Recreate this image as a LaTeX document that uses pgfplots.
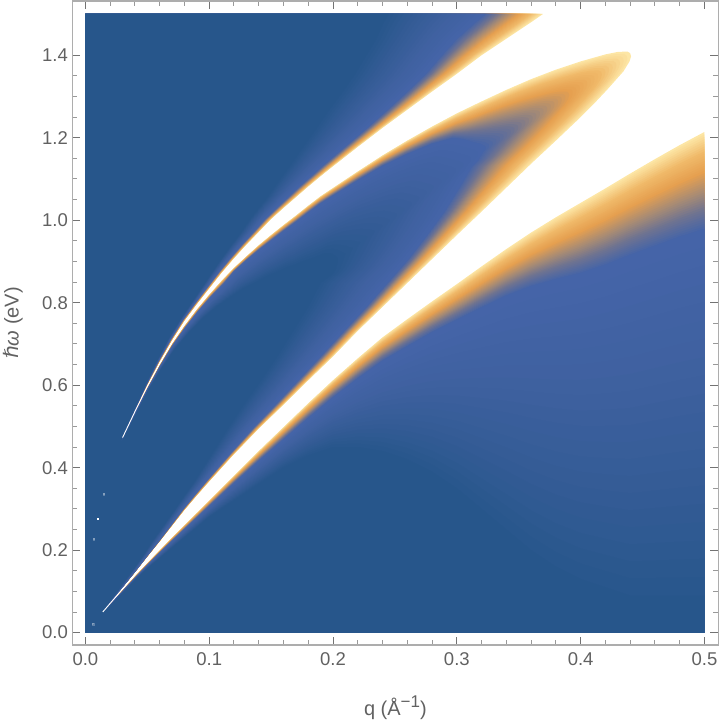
\documentclass[border=0pt]{standalone}
\usepackage{fontspec}
\setmainfont{Liberation Sans}
\newfontfamily\dejavu{DejaVu Sans}
\usepackage{pgfplots}
\usepackage{pgfplotstable}
\pgfplotsset{compat=1.18}

\pgfplotsset{
  colormap={halo}{rgb255=(253,230,165) rgb255=(240,185,105) rgb255=(230,160,80) rgb255=(170,140,115) rgb255=(110,115,145) rgb255=(69,100,168)},
  colormap={deep}{rgb255=(69,100,168) rgb255=(63,97,160) rgb255=(52,92,150) rgb255=(39,86,139)},
}

% non-white region: white edge (x0,y0), end of orange halo (x1,y1), end of light blue (x2,y2)
\pgfplotstableread{
x0 y0 x1 y1 x2 y2
0 1.5 0 1.5 0 1.5
.3696 1.5 .323 1.5 .245 1.5
.36 1.48 .315 1.48 .241 1.48
.34 1.44 .30 1.44 .235 1.44
.32 1.40 .288 1.40 .227 1.40
.30 1.355 .275 1.355 .218 1.355
.28 1.312 .26 1.312 .208 1.312
.26 1.268 .244 1.268 .197 1.268
.24 1.224 .2275 1.224 .187 1.224
.22 1.178 .2095 1.178 .176 1.178
.20 1.131 .1912 1.131 .165 1.131
.19 1.107 .1823 1.107 .159 1.107
.18 1.082 .1728 1.082 .153 1.082
.17 1.056 .1636 1.056 .147 1.056
.16 1.03 .1544 1.03 .14 1.03
.15 1.003 .145 1.003 .133 1.003
.14 .972 .1358 .972 .126 .972
.13 .941 .1263 .941 .118 .941
.12 .908 .1168 .908 .11 .908
.11 .873 .1073 .873 .102 .873
.10 .835 .0976 .835 .0935 .835
.09 .797 .088 .797 .085 .797
.08 .757 .0783 .757 .076 .757
.07 .71 .0686 .71 .0665 .71
.06 .658 .0589 .658 .0575 .658
.05 .601 .0492 .601 .0485 .601
.04 .538 .0395 .538 .039 .538
.03 .474 .0298 .474 .0295 .474
.0285 .46 .0285 .46 .0285 .46
.03 .472 .0301 .4715 .0305 .469
.04 .534 .0402 .533 .041 .53
.05 .593 .0503 .591 .051 .588
.06 .648 .0604 .646 .0615 .64
.07 .699 .0705 .696 .0725 .688
.08 .743 .0807 .739 .084 .728
.09 .783 .091 .778 .095 .762
.10 .819 .1012 .813 .106 .79
.11 .853 .112 .846 .118 .815
.12 .884 .12 .875 .128 .835
.13 .912 .13 .902 .138 .85
.14 .939 .14 .927 .147 .865
.15 .964 .15 .950 .155 .875
.16 .988 .16 .973 .162 .885
.17 1.011 .17 .995 .169 .892
.18 1.035 .18 1.018 .175 .90
.19 1.058 .19 1.04 .18 .905
.20 1.078 .20 1.059 .185 .91
.22 1.118 .22 1.096 .193 .92
.24 1.157 .24 1.131 .198 .92
.26 1.193 .26 1.16 .201 .915
.28 1.227 .28 1.185 .203 .91
.30 1.259 .297 1.199 .204 .905
.32 1.288 .305 1.196 .204 .905
.34 1.316 .309 1.193 .204 .905
.36 1.342 .312 1.19 .204 .905
.38 1.365 .315 1.188 .204 .905
.40 1.385 .318 1.186 .204 .905
.42 1.402 .32 1.184 .204 .905
.43 1.408 .321 1.182 .204 .905
.4378 1.409 .322 1.18 .204 .905
.44 1.405 .323 1.178 .204 .905
.4407 1.397 .323 1.175 .204 .905
.4395 1.385 .323 1.172 .204 .905
.4346 1.361 .322 1.168 .204 .905
.4216 1.317 .321 1.165 .204 .905
.41 1.28 .32 1.16 .204 .905
.40 1.25 .319 1.155 .204 .905
.38 1.193 .317 1.145 .204 .905
.36 1.137 .312 1.13 .204 .903
.34 1.079 .302 1.079 .204 .90
.32 1.021 .29 1.021 .203 .89
.30 .964 .276 .964 .202 .88
.28 .906 .261 .906 .2 .87
.26 .848 .244 .848 .19 .848
.24 .79 .227 .79 .18 .79
.22 .732 .209 .732 .168 .732
.20 .67 .19 .67 .155 .67
.18 .612 .172 .612 .142 .612
.16 .553 .1535 .553 .128 .553
.14 .495 .135 .495 .115 .495
.12 .433 .1165 .433 .102 .433
.10 .367 .0975 .367 .088 .367
.09 .333 .088 .333 .08 .333
.08 .298 .0785 .298 .072 .298
.07 .26 .069 .26 .063 .26
.06 .222 .0594 .222 .054 .222
.05 .185 .0496 .185 .046 .185
.04 .147 .0398 .147 .037 .147
.03 .11 .0299 .11 .028 .11
.02 .073 .02 .073 .019 .073
.012 .042 .012 .042 .012 .042
.02 .069 .02 .068 .02 .065
.03 .102 .03 .10 .03 .095
.04 .136 .04 .132 .04 .127
.05 .168 .05 .163 .05 .155
.06 .199 .06 .193 .06 .18
.07 .23 .07 .222 .07 .205
.08 .26 .08 .25 .08 .23
.09 .29 .09 .278 .09 .255
.10 .32 .10 .306 .10 .28
.12 .38 .12 .362 .12 .32
.14 .44 .14 .416 .14 .36
.16 .498 .16 .468 .16 .40
.18 .556 .18 .52 .18 .43
.20 .612 .20 .57 .20 .45
.22 .665 .22 .616 .22 .45
.24 .716 .24 .659 .24 .44
.26 .76 .26 .694 .26 .42
.28 .803 .28 .728 .28 .39
.30 .845 .30 .758 .30 .35
.32 .888 .32 .788 .32 .30
.34 .93 .34 .817 .34 .25
.36 .97 .36 .84 .36 .20
.38 1.007 .38 .857 .38 .16
.40 1.042 .40 .872 .40 .13
.42 1.077 .42 .892 .42 .11
.44 1.113 .44 .916 .44 .09
.46 1.148 .46 .938 .46 .09
.48 1.182 .48 .96 .48 .09
.50 1.214 .50 .979 .50 .09
.5 0 .5 0 .5 0
0 0 0 0 0 0
}\region

\begin{document}
\begin{tikzpicture}
\begin{axis}[
    scale only axis,
    width=646pt, height=644pt,
    xmin=-0.0105, xmax=0.5113,
    ymin=-0.03, ymax=1.5315,
    xtick={0,0.1,0.2,0.3,0.4,0.5},
    ytick={0,0.2,0.4,0.6,0.8,1.0,1.2,1.4},
    minor x tick num=4,
    minor y tick num=3,
    tick align=inside,
    major tick length=8pt, minor tick length=5pt,
    every major tick/.append style={color=black!55, line width=1pt},
    every minor tick/.append style={color=black!40, line width=1pt},
    axis line style={color=black!32, line width=1.5pt},
    tick label style={color=black!62, font=\fontsize{18.5}{20}\selectfont},
    /pgf/number format/assume math mode=true,
    /pgf/number format/fixed,
    /pgf/number format/fixed zerofill,
    /pgf/number format/precision=1,
    yticklabel style={xshift=-1pt},
    xticklabel style={yshift=-4pt},
    xlabel={q (Å\raisebox{.42em}{\fontsize{17}{17}\selectfont −1})},
    ylabel={{\dejavu\itshape ℏ}\textit{ω} (eV)},
    label style={color=black!62, font=\fontsize{20}{22}\selectfont},
    xlabel style={at={(axis description cs:0.5,-0.097)}, anchor=center},
    ylabel style={at={(axis description cs:-0.092,0.5)}, anchor=center},
]
\pgfplotsinvokeforeach{0,25,...,1000}{
  \addplot[draw=none, color of colormap={#1 of halo}, fill=.] table[
    x expr={\thisrow{x0}+#1/1000*(\thisrow{x1}-\thisrow{x0})},
    y expr={\thisrow{y0}+#1/1000*(\thisrow{y1}-\thisrow{y0})}] {\region};
}
\pgfplotsinvokeforeach{0,50,...,1000}{
  \addplot[draw=none, color of colormap={#1 of deep}, fill=.] table[
    x expr={\thisrow{x1}+#1/1000*(\thisrow{x2}-\thisrow{x1})},
    y expr={\thisrow{y1}+#1/1000*(\thisrow{y2}-\thisrow{y1})}] {\region};
}
% thin ends of the two bands
\addplot[white, line width=0.9pt] coordinates {(.03,.473) (.04,.536) (.05,.597) (.06,.653) (.07,.7045)};
\addplot[white, line width=0.9pt] coordinates {(.014,.05) (.02,.071) (.03,.106) (.04,.1415)};
% stray pixels at small q
\addplot[only marks, mark=square*, mark size=0.7pt, white] coordinates {(.01,.276)};
\addplot[only marks, mark=square*, mark size=0.9pt, color=white, opacity=.25] coordinates {(.0067,.2266) (.0148,.336) (.006,.02)};
\end{axis}
\useasboundingbox (-72pt,-79pt) rectangle (648pt,645pt);
\end{tikzpicture}
\end{document}
